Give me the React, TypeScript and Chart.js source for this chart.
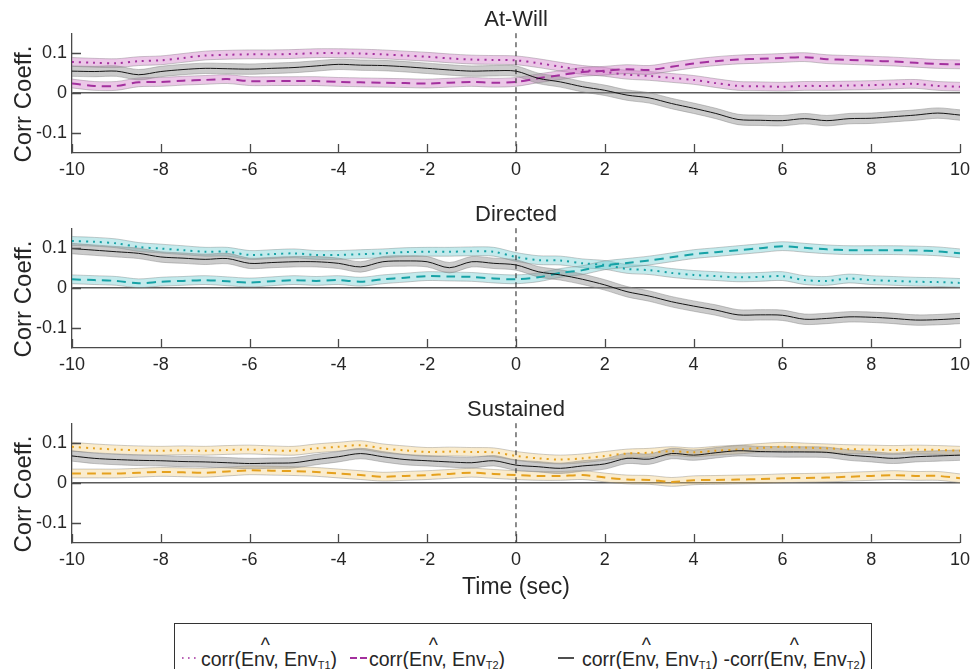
import React, { useEffect, useRef } from 'react';
import { Chart, registerables } from 'chart.js';

Chart.register(...registerables);

// ---------- data ----------
const TIME = [
  -10, -9.5, -9, -8.5, -8, -7.5, -7, -6.5, -6, -5.5,
  -5, -4.5, -4, -3.5, -3, -2.5, -2, -1.5, -1, -0.5,
  0, 0.5, 1, 1.5, 2, 2.5, 3, 3.5, 4, 4.5,
  5, 5.5, 6, 6.5, 7, 7.5, 8, 8.5, 9, 9.5, 10,
];

const X_TICKS = [-10, -8, -6, -4, -2, 0, 2, 4, 6, 8, 10];
const X_TICK_LABELS = ['-10', '-8', '-6', '-4', '-2', '0', '2', '4', '6', '8', '10'];
const Y_TICKS = [-0.1, 0, 0.1];
const Y_TICK_LABELS = ['-0.1', '0', '0.1'];

const PANEL_TITLES = ['At-Will', 'Directed', 'Sustained'];
const Y_LABEL = 'Corr Coeff.';
const X_LABEL = 'Time (sec)';

// At-Will
const AW_T1 = [
  0.078, 0.076, 0.075, 0.080, 0.082, 0.088, 0.094, 0.096, 0.097, 0.097,
  0.098, 0.100, 0.100, 0.099, 0.097, 0.094, 0.091, 0.087, 0.084, 0.083,
  0.082, 0.075, 0.066, 0.058, 0.053, 0.046, 0.043, 0.038, 0.033, 0.025,
  0.018, 0.017, 0.016, 0.018, 0.018, 0.019, 0.020, 0.022, 0.023, 0.018, 0.016,
];
const AW_T2 = [
  0.024, 0.018, 0.018, 0.027, 0.028, 0.031, 0.033, 0.035, 0.030, 0.030,
  0.030, 0.030, 0.028, 0.027, 0.026, 0.025, 0.024, 0.026, 0.028, 0.026,
  0.028, 0.037, 0.045, 0.053, 0.056, 0.060, 0.058, 0.066, 0.074, 0.080,
  0.084, 0.086, 0.088, 0.090, 0.085, 0.083, 0.081, 0.079, 0.076, 0.073, 0.072,
];
const AW_DIFF = [
  0.055, 0.054, 0.055, 0.046, 0.054, 0.059, 0.062, 0.061, 0.060, 0.062,
  0.064, 0.068, 0.072, 0.070, 0.069, 0.066, 0.062, 0.058, 0.055, 0.056,
  0.055, 0.037, 0.028, 0.016, 0.007, -0.005, -0.012, -0.026, -0.038, -0.051,
  -0.066, -0.068, -0.069, -0.064, -0.069, -0.064, -0.063, -0.059, -0.055, -0.050, -0.055,
];

// Directed
const DIR_T1 = [
  0.118, 0.116, 0.112, 0.103, 0.099, 0.095, 0.091, 0.091, 0.083, 0.085,
  0.087, 0.083, 0.083, 0.085, 0.087, 0.090, 0.091, 0.091, 0.092, 0.091,
  0.078, 0.070, 0.069, 0.062, 0.058, 0.048, 0.045, 0.038, 0.033, 0.030,
  0.027, 0.028, 0.030, 0.020, 0.018, 0.024, 0.020, 0.018, 0.016, 0.015, 0.013,
];
const DIR_T2 = [
  0.022, 0.020, 0.018, 0.012, 0.016, 0.018, 0.020, 0.017, 0.014, 0.017,
  0.020, 0.018, 0.020, 0.016, 0.022, 0.026, 0.030, 0.029, 0.028, 0.024,
  0.022, 0.027, 0.038, 0.045, 0.057, 0.063, 0.069, 0.077, 0.085, 0.090,
  0.095, 0.100, 0.105, 0.101, 0.097, 0.095, 0.095, 0.095, 0.094, 0.092, 0.087,
];
const DIR_DIFF = [
  0.099, 0.095, 0.091, 0.087, 0.078, 0.075, 0.072, 0.074, 0.062, 0.064,
  0.066, 0.066, 0.062, 0.053, 0.066, 0.068, 0.066, 0.051, 0.066, 0.062,
  0.058, 0.041, 0.033, 0.022, 0.008, -0.009, -0.020, -0.034, -0.045, -0.055,
  -0.067, -0.067, -0.068, -0.078, -0.076, -0.072, -0.073, -0.076, -0.080, -0.079, -0.076,
];

// Sustained
const SUS_T1 = [
  0.091, 0.087, 0.084, 0.082, 0.081, 0.082, 0.081, 0.083, 0.084, 0.082,
  0.081, 0.087, 0.091, 0.095, 0.087, 0.082, 0.078, 0.079, 0.078, 0.077,
  0.068, 0.062, 0.059, 0.062, 0.068, 0.074, 0.076, 0.080, 0.077, 0.081,
  0.084, 0.088, 0.091, 0.089, 0.087, 0.085, 0.084, 0.083, 0.084, 0.083, 0.081,
];
const SUS_T2 = [
  0.024, 0.024, 0.024, 0.026, 0.028, 0.027, 0.026, 0.029, 0.032, 0.031,
  0.030, 0.028, 0.024, 0.020, 0.016, 0.018, 0.020, 0.023, 0.026, 0.023,
  0.020, 0.018, 0.018, 0.020, 0.014, 0.009, 0.008, 0.003, 0.007, 0.008,
  0.009, 0.010, 0.012, 0.013, 0.014, 0.016, 0.018, 0.020, 0.018, 0.018, 0.012,
];
const SUS_DIFF = [
  0.068, 0.062, 0.059, 0.057, 0.056, 0.054, 0.053, 0.051, 0.049, 0.050,
  0.051, 0.059, 0.066, 0.074, 0.066, 0.059, 0.056, 0.053, 0.051, 0.056,
  0.045, 0.041, 0.037, 0.043, 0.048, 0.062, 0.060, 0.074, 0.070, 0.076,
  0.081, 0.079, 0.078, 0.078, 0.077, 0.070, 0.066, 0.062, 0.066, 0.068, 0.070,
];

// half-width of the shaded error bands
const SE_T1 = 0.011;
const SE_T2 = 0.011;
const SE_DIFF = 0.013;

// ---------- styles ----------
const FONT = '"Liberation Sans", Arial, Helvetica, sans-serif';
const INK = '#262626';
const AXIS = '#4a4a4a';
const ZERO = '#5a5a5a';
const DIFF_COLOR = '#151515';
const EDGE = 'rgba(130,130,130,0.45)';
const GRAY_BAND = 'rgba(140,140,140,0.45)';

Chart.defaults.font.family = FONT;

type Spec = {
  title: string;
  t1: number[];
  t2: number[];
  diff: number[];
  line: string;
  band: string;
  top: number;
  height: number;
  xHeight: number;
  xTitle?: string;
};

const SPECS: Spec[] = [
  { title: PANEL_TITLES[0], t1: AW_T1, t2: AW_T2, diff: AW_DIFF, line: '#A3309E', band: 'rgba(205,115,195,0.40)', top: 0, height: 195, xHeight: 42 },
  { title: PANEL_TITLES[1], t1: DIR_T1, t2: DIR_T2, diff: DIR_DIFF, line: '#16A2A6', band: 'rgba(100,200,205,0.38)', top: 195, height: 195, xHeight: 42 },
  { title: PANEL_TITLES[2], t1: SUS_T1, t2: SUS_T2, diff: SUS_DIFF, line: '#E5A11E', band: 'rgba(240,200,110,0.34)', top: 390, height: 230, xHeight: 77, xTitle: X_LABEL },
];

function pts(vals: number[], offset = 0) {
  return vals.map((v, i) => ({ x: TIME[i], y: v + offset }));
}

const decor = {
  id: 'decor',
  afterDatasetsDraw(chart: any) {
    const { ctx, chartArea, scales } = chart;
    const { top, bottom, left } = chartArea;
    const x = scales.x;
    const y = scales.y;
    ctx.save();
    // event marker at t = 0
    const x0 = x.getPixelForValue(0);
    ctx.strokeStyle = '#1a1a1a';
    ctx.lineWidth = 1;
    ctx.setLineDash([5, 4]);
    ctx.beginPath();
    ctx.moveTo(x0, top);
    ctx.lineTo(x0, bottom);
    ctx.stroke();
    ctx.setLineDash([]);
    // inward tick marks
    ctx.strokeStyle = AXIS;
    ctx.lineWidth = 1.3;
    ctx.beginPath();
    X_TICKS.forEach((v) => {
      const px = Math.round(x.getPixelForValue(v)) + 0.5;
      ctx.moveTo(px, bottom);
      ctx.lineTo(px, bottom - 9);
    });
    Y_TICKS.forEach((v) => {
      const py = Math.round(y.getPixelForValue(v)) + 0.5;
      ctx.moveTo(left, py);
      ctx.lineTo(left + 9, py);
    });
    ctx.stroke();
    ctx.restore();
  },
  afterDraw(chart: any, _args: any, opts: any) {
    const { ctx, chartArea } = chart;
    ctx.save();
    ctx.translate(24, (chartArea.top + chartArea.bottom) / 2 + 11);
    ctx.rotate(-Math.PI / 2);
    ctx.font = `24px ${FONT}`;
    ctx.fillStyle = INK;
    ctx.textAlign = 'center';
    ctx.textBaseline = 'middle';
    ctx.fillText(opts.yLabel, 0, 0);
    ctx.restore();
  },
};

function Panel({ spec }: { spec: Spec }) {
  const ref = useRef<HTMLCanvasElement>(null);
  useEffect(() => {
    const common = { pointRadius: 0, pointHoverRadius: 0, tension: 0.3 };
    const chart = new Chart(ref.current as HTMLCanvasElement, {
      type: 'line',
      data: {
        datasets: [
          { label: 'diff', data: pts(spec.diff), borderColor: DIFF_COLOR, borderWidth: 1, fill: false, order: 0, ...common },
          { label: 'T1', data: pts(spec.t1), borderColor: spec.line, borderWidth: 2, borderDash: [2, 5], fill: false, order: 1, ...common },
          { label: 'T2', data: pts(spec.t2), borderColor: spec.line, borderWidth: 2, borderDash: [9, 6], fill: false, order: 2, ...common },
          { label: 'T1 upper', data: pts(spec.t1, SE_T1), borderColor: EDGE, borderWidth: 1, fill: false, order: 20, ...common },
          { label: 'T1 lower', data: pts(spec.t1, -SE_T1), borderColor: EDGE, borderWidth: 1, fill: 3, backgroundColor: spec.band, order: 19, ...common },
          { label: 'T2 upper', data: pts(spec.t2, SE_T2), borderColor: EDGE, borderWidth: 1, fill: false, order: 18, ...common },
          { label: 'T2 lower', data: pts(spec.t2, -SE_T2), borderColor: EDGE, borderWidth: 1, fill: 5, backgroundColor: spec.band, order: 17, ...common },
          { label: 'diff upper', data: pts(spec.diff, SE_DIFF), borderColor: EDGE, borderWidth: 1, fill: false, order: 12, ...common },
          { label: 'diff lower', data: pts(spec.diff, -SE_DIFF), borderColor: EDGE, borderWidth: 1, fill: 7, backgroundColor: GRAY_BAND, order: 11, ...common },
        ] as any,
      },
      options: {
        responsive: false,
        animation: false,
        events: [],
        layout: { padding: { left: 0, right: 14, top: 0, bottom: 0 } },
        plugins: {
          legend: { display: false },
          tooltip: { enabled: false },
          title: {
            display: true,
            text: spec.title,
            fullSize: false,
            color: INK,
            font: { size: 22, weight: 'normal' as any, family: FONT, lineHeight: 1.1 },
            padding: { top: 8, bottom: 1 },
          },
          decor: { yLabel: Y_LABEL },
        } as any,
        scales: {
          x: {
            type: 'linear',
            min: -10,
            max: 10,
            afterBuildTicks: (s: any) => { s.ticks = X_TICKS.map((v) => ({ value: v })); },
            afterFit: (s: any) => { s.height = spec.xHeight; },
            grid: { display: false, drawTicks: false },
            border: { display: true, color: AXIS, width: 1.3 },
            ticks: {
              color: INK,
              font: { size: 18, family: FONT },
              padding: 6,
              maxRotation: 0,
              autoSkip: false,
              callback: (_v: any, i: number) => X_TICK_LABELS[i],
            },
            title: spec.xTitle
              ? { display: true, text: spec.xTitle, color: INK, font: { size: 23, family: FONT }, padding: { top: 0, bottom: 19 } }
              : { display: false },
          },
          y: {
            type: 'linear',
            min: -0.15,
            max: 0.15,
            afterBuildTicks: (s: any) => { s.ticks = Y_TICKS.map((v) => ({ value: v })); },
            afterFit: (s: any) => { s.width = 72; },
            grid: {
              display: true,
              drawTicks: false,
              color: (c: any) => (c.tick && c.tick.value === 0 ? ZERO : 'rgba(0,0,0,0)'),
              lineWidth: 1.4,
            },
            border: { display: true, color: AXIS, width: 1.3 },
            ticks: {
              color: INK,
              font: { size: 18, family: FONT },
              padding: 5,
              callback: (_v: any, i: number) => Y_TICK_LABELS[i],
            },
          },
        } as any,
      },
      plugins: [decor],
    });
    return () => chart.destroy();
  }, [spec]);
  return (
    <canvas
      ref={ref}
      width={976}
      height={spec.height}
      style={{ position: 'absolute', left: 0, top: spec.top, width: 976, height: spec.height }}
    />
  );
}

function EnvHat() {
  return (
    <span>
      E
      <span style={{ position: 'relative' }}>
        n
        <span style={{ position: 'absolute', left: '0.34em', top: '-0.72em' }}>^</span>
      </span>
      v
    </span>
  );
}

function Sub({ t }: { t: string }) {
  return <span style={{ fontSize: 11, verticalAlign: '-3px' }}>{t}</span>;
}

function CorrTerm({ sub }: { sub: string }) {
  return (
    <span>
      corr(
      <EnvHat />, Env
      <Sub t={sub} />)
    </span>
  );
}

function Legend() {
  const textStyle: React.CSSProperties = {
    position: 'absolute',
    top: 24,
    whiteSpace: 'nowrap',
    fontSize: 19.5,
    lineHeight: '22px',
    color: INK,
    fontFamily: FONT,
  };
  return (
    <div
      style={{
        position: 'absolute',
        left: 174,
        top: 623,
        width: 698,
        height: 60,
        border: '1px solid #333',
        boxSizing: 'border-box',
        background: '#fff',
      }}
    >
      <svg style={{ position: 'absolute', left: 6, top: 32 }} width={16} height={4}>
        <line x1={1} y1={2} x2={15} y2={2} stroke={SPECS[0].line} strokeWidth={1.6} strokeDasharray="1.6 4.4" />
      </svg>
      <div style={{ ...textStyle, left: 26 }}>
        <CorrTerm sub="T1" />
      </div>
      <svg style={{ position: 'absolute', left: 175, top: 32 }} width={18} height={4}>
        <line x1={0} y1={2} x2={17} y2={2} stroke={SPECS[0].line} strokeWidth={1.8} strokeDasharray="7 3" />
      </svg>
      <div style={{ ...textStyle, left: 194 }}>
        <CorrTerm sub="T2" />
      </div>
      <svg style={{ position: 'absolute', left: 383, top: 32 }} width={17} height={4}>
        <line x1={0} y1={2} x2={16} y2={2} stroke={DIFF_COLOR} strokeWidth={1.5} />
      </svg>
      <div style={{ ...textStyle, left: 407 }}>
        <CorrTerm sub="T1" /> -<CorrTerm sub="T2" />
      </div>
    </div>
  );
}

export default function App() {
  return (
    <div
      style={{
        position: 'absolute',
        left: 0,
        top: 0,
        width: 976,
        height: 669,
        overflow: 'hidden',
        background: '#fff',
        fontFamily: FONT,
      }}
    >
      {SPECS.map((s) => (
        <Panel key={s.title} spec={s} />
      ))}
      <Legend />
    </div>
  );
}
